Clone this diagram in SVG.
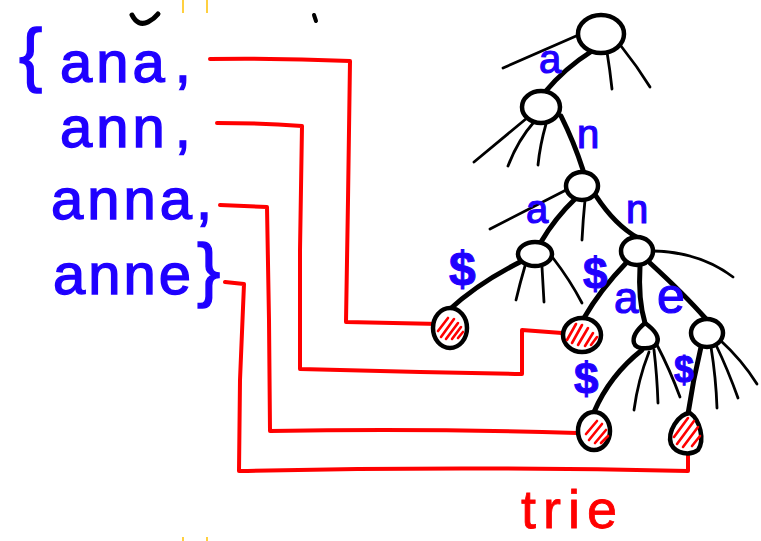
<svg xmlns="http://www.w3.org/2000/svg" width="761" height="541" viewBox="0 0 761 541">
  <style>
    .word { font-family: "Liberation Sans", Arial, sans-serif; font-size: 58px; fill: #1f00ff; stroke: #1f00ff; stroke-width: 1.4; letter-spacing: 4px; }
    .lbl { font-family: "Liberation Sans", Arial, sans-serif; fill: #1f00ff; stroke: #1f00ff; stroke-width: 1.2; }
    .dol { font-family: "Liberation Sans", Arial, sans-serif; font-weight: bold; fill: #1f00ff; stroke: #1f00ff; stroke-width: 1; }
    .title { font-family: "Liberation Sans", Arial, sans-serif; font-size: 54px; fill: #ff0000; stroke: #ff0000; stroke-width: 0.8; letter-spacing: 7px; }
    .wire { fill: none; stroke: #ff0000; stroke-width: 4; stroke-linecap: round; stroke-linejoin: round; }
    .thick { fill: none; stroke: #000; stroke-width: 5; stroke-linecap: round; }
    .thin { fill: none; stroke: #000; stroke-width: 2.8; stroke-linecap: round; }
    .node { fill: #fff; stroke: #000; stroke-width: 4.5; }
    .hatch { stroke: #ff0000; stroke-width: 2.6; stroke-linecap: round; }
    .edge-mark { stroke: #ffc000; stroke-width: 1.5; }
  </style>

  <rect width="761" height="541" fill="#fff"/>

  <!-- page edge marks -->
  <g id="marks">
    <line class="edge-mark" x1="183" y1="0" x2="183" y2="13"/>
    <line class="edge-mark" x1="207" y1="0" x2="207" y2="13"/>
    <line class="edge-mark" x1="183" y1="537" x2="183" y2="541"/>
    <line class="edge-mark" x1="207" y1="537" x2="207" y2="541"/>
    <path d="M132,15 Q138,27 148,22 Q154,19 158,14" fill="none" stroke="#000" stroke-width="5" stroke-linecap="round"/>
    <path d="M314,15 L316,21" stroke="#000" stroke-width="4" stroke-linecap="round"/>
  </g>

  <!-- word set -->
  <g id="words">
    <text class="word"><tspan x="19" y="78" font-size="70" letter-spacing="0">{</tspan><tspan x="60" y="82">ana</tspan><tspan dx="6">,</tspan></text>
    <text class="word"><tspan x="60" y="147">ann</tspan><tspan dx="6">,</tspan></text>
    <text class="word"><tspan x="51" y="219">anna</tspan><tspan dx="0">,</tspan></text>
    <text class="word"><tspan x="53" y="294" letter-spacing="3">anne</tspan><tspan x="197" y="293" font-size="70" letter-spacing="0">}</tspan></text>
  </g>

  <!-- connectors: red word links and tree edges -->
  <g id="connectors">
    <path class="wire" d="M210,59 Q280,58 350,61 L348,200 L346,322 L440,324"/>
    <path class="wire" d="M217,123 Q260,123 302,126 L300,250 L300,369 Q410,372 522,374 L522,330 L562,333"/>
    <path class="wire" d="M220,205 L267,207 L269,320 L270,431 Q420,428 577,433"/>
    <path class="wire" d="M225,282 L244,284 L240,380 L239,471 Q460,466 688,471 L688,452"/>

    <path class="thick" d="M592,51 Q565,68 545,92"/>
    <path class="thick" d="M561,116 Q574,142 583,170"/>
    <path class="thick" d="M576,198 Q555,218 541,242"/>
    <path class="thick" d="M596,196 Q615,225 638,238"/>
    <path class="thick" d="M522,261 Q478,283 449,310"/>
    <path class="thick" d="M627,262 Q600,290 584,318"/>
    <path class="thick" d="M640,266 Q638,300 645,323"/>
    <path class="thick" d="M650,263 Q685,295 706,319"/>
    <path class="thick" d="M642,350 Q610,375 594,412"/>
    <path class="thick" d="M701,347 Q693,380 688,414"/>

    <path class="thin" d="M583,33 L503,68"/>
    <path class="thin" d="M607,52 Q610,70 612,89"/>
    <path class="thin" d="M621,46 Q637,66 650,87"/>
    <path class="thin" d="M527,118 L474,162"/>
    <path class="thin" d="M534,122 Q518,140 508,166"/>
    <path class="thin" d="M546,124 Q540,145 538,165"/>
    <path class="thin" d="M568,189 L490,229"/>
    <path class="thin" d="M585,200 Q583,220 582,240"/>
    <path class="thin" d="M525,266 Q520,283 516,300"/>
    <path class="thin" d="M542,267 Q543,285 544,302"/>
    <path class="thin" d="M553,258 Q570,280 582,303"/>
    <path class="thin" d="M653,251 Q700,252 733,277"/>
    <path class="thin" d="M649,352 Q638,380 634,410"/>
    <path class="thin" d="M654,350 Q657,375 658,403"/>
    <path class="thin" d="M657,345 Q670,370 680,397"/>
    <path class="thin" d="M711,347 Q716,378 717,408"/>
    <path class="thin" d="M716,345 Q728,370 738,398"/>
    <path class="thin" d="M720,340 Q742,360 757,384"/>
  </g>

  <!-- edge labels -->
  <g id="labels">
    <text class="lbl" x="539" y="73" font-size="40">a</text>
    <text class="lbl" x="577" y="148" font-size="40">n</text>
    <text class="lbl" x="526" y="223" font-size="40">a</text>
    <text class="lbl" x="626" y="223" font-size="40">n</text>
    <text class="lbl" x="614" y="313" font-size="44">a</text>
    <text class="lbl" x="657" y="313" font-size="50">e</text>
    <text class="dol" x="449" y="285" font-size="48">$</text>
    <text class="dol" x="583" y="289" font-size="44">$</text>
    <text class="dol" x="574" y="394" font-size="44">$</text>
    <text class="dol" x="674" y="382" font-size="36">$</text>
  </g>

  <!-- tree nodes -->
  <g id="root"><ellipse class="node" cx="601" cy="34" rx="23" ry="19"/></g>
  <g id="n-a"><ellipse class="node" cx="541" cy="107" rx="19" ry="16"/></g>
  <g id="n-an"><ellipse class="node" cx="582" cy="186" rx="16" ry="14"/></g>
  <g id="n-ana"><ellipse class="node" cx="535" cy="254" rx="17" ry="12"/></g>
  <g id="n-ann"><ellipse class="node" cx="637" cy="251" rx="16" ry="14"/></g>
  <g id="n-anna"><path class="node" d="M645,323 C652,328 660,336 657,343 C654,350 636,350 634,343 C632,336 639,328 645,323 Z"/></g>
  <g id="n-anne"><ellipse class="node" cx="707" cy="333" rx="16" ry="14"/></g>

  <!-- terminal nodes -->
  <g id="end-ana">
    <ellipse class="node" cx="450" cy="328" rx="17" ry="20"/>
    <line class="hatch" x1="438" y1="331" x2="448" y2="318"/>
    <line class="hatch" x1="441" y1="337" x2="454" y2="319"/>
    <line class="hatch" x1="446" y1="339" x2="458" y2="323"/>
    <line class="hatch" x1="452" y1="339" x2="461" y2="327"/>
    <line class="hatch" x1="458" y1="338" x2="463" y2="332"/>
  </g>
  <g id="end-ann">
    <ellipse class="node" cx="582" cy="335" rx="19" ry="17"/>
    <line class="hatch" x1="567" y1="340" x2="576" y2="324"/>
    <line class="hatch" x1="572" y1="343" x2="582" y2="325"/>
    <line class="hatch" x1="578" y1="345" x2="588" y2="328"/>
    <line class="hatch" x1="585" y1="346" x2="593" y2="333"/>
    <line class="hatch" x1="591" y1="345" x2="597" y2="337"/>
  </g>
  <g id="end-anna">
    <ellipse class="node" cx="594" cy="431" rx="16" ry="19"/>
    <line class="hatch" x1="586" y1="434" x2="597" y2="421"/>
    <line class="hatch" x1="589" y1="440" x2="602" y2="424"/>
    <line class="hatch" x1="595" y1="443" x2="606" y2="430"/>
    <line class="hatch" x1="601" y1="443" x2="608" y2="436"/>
  </g>
  <g id="end-anne">
    <path class="node" d="M690,413 C700,420 705,440 698,450 C690,456 676,454 671,444 C667,432 678,414 690,413 Z"/>
    <line class="hatch" x1="674" y1="437" x2="688" y2="418"/>
    <line class="hatch" x1="677" y1="444" x2="694" y2="421"/>
    <line class="hatch" x1="683" y1="447" x2="698" y2="427"/>
    <line class="hatch" x1="692" y1="446" x2="700" y2="436"/>
  </g>

  <g id="caption"><text class="title" x="521" y="528">trie</text></g>
</svg>
